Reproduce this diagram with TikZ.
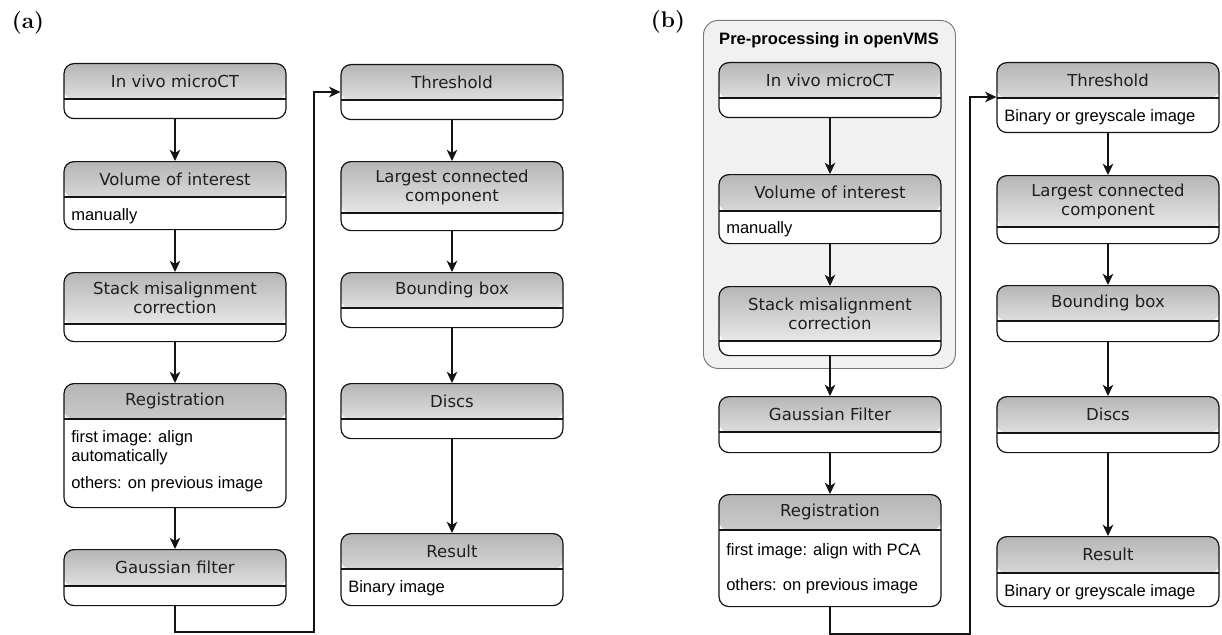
\documentclass[tikz,border=0pt]{standalone}
\usepackage{fontspec}
\newfontfamily\arialf{Liberation Sans}
\newfontfamily\verdf{DejaVu Sans}
\usetikzlibrary{arrows.meta,calc}
\definecolor{linecol}{RGB}{20,20,20}
\definecolor{hdtop}{RGB}{182,182,182}
\definecolor{hdbot}{RGB}{246,246,246}
\definecolor{grpfill}{RGB}{241,241,241}
\definecolor{grpline}{RGB}{120,120,120}
\tikzset{
  stepbox/.style={draw=linecol, line width=0.9pt, fill=white, rounded corners=7.5pt,
    minimum width=166.5pt, inner sep=0pt, anchor=north},
  stepline/.style={draw=linecol, line width=0.9pt},
  titletext/.style={font=\verdf\fontsize{12.4}{14.25}\selectfont, align=center, inner sep=0pt, text=black!88},
  bodytext/.style={font=\arialf\fontsize{12.4}{14.25}\selectfont, align=left, anchor=west, inner sep=0pt},
  grouptext/.style={font=\arialf\bfseries\fontsize{12.4}{14.25}\selectfont, inner sep=0pt},
  panellabel/.style={font=\rmfamily\bfseries\fontsize{17}{20}\selectfont, inner sep=0pt},
  arr/.style={draw=linecol, line width=0.8pt, -{Stealth[length=8.5pt,width=8pt,inset=2.5pt]}},
}
\newcommand\flowstep[6]{%
  \node[stepbox, minimum height={(#5-#3)*0.75pt},
    path picture={\shade[top color=hdtop,bottom color=hdbot]
      (path picture bounding box.north west) rectangle
      ([yshift={-(#4-#3)*0.75pt}]path picture bounding box.north east);}]
    (#1) at (#2,#3) {};
  \draw[stepline] (#2-111,#4) -- (#2+111,#4);
  \node[titletext] (#1-t) at (#2,{(#3+#4)/2}) {#6};
}
\begin{document}
\begin{tikzpicture}[x=0.75pt,y=-0.75pt]
\useasboundingbox (0,0) rectangle (1222,635);

% panel labels
\node[panellabel] (la) at (28,23) {(a)};
\node[panellabel] (lb) at (668,22) {(b)};

% ---------- panel (a) ----------
\flowstep{A1}{175}{63}{99}{118}{In vivo microCT}
\flowstep{A2}{175}{161}{197}{229}{Volume of interest}
\node[bodytext] (A2-b) at (71,216) {manually};
\flowstep{A3}{175}{272}{324}{341}{Stack misalignment\\correction}
\flowstep{A4}{175}{383}{419}{507}{Registration}
\node[bodytext, execute at begin node={\baselineskip=14.25pt}] (A4-b1) at (71,447.5) {first image: align\\automatically};
\node[bodytext] (A4-b2) at (71,484) {others: on previous image};
\flowstep{A5}{175}{549}{586}{605}{Gaussian filter}

\flowstep{B1}{452}{64}{100}{119}{Threshold}
\flowstep{B2}{452}{161}{213}{230}{Largest connected\\component}
\flowstep{B3}{452}{272}{308}{327}{Bounding box}
\flowstep{B4}{452}{383}{419}{438}{Discs}
\flowstep{B5}{452}{533}{569}{605}{Result}
\node[bodytext] (B5-b) at (348,588) {Binary image};

\draw[arr] (A1.south) -- (A2.north);
\draw[arr] (A2.south) -- (A3.north);
\draw[arr] (A3.south) -- (A4.north);
\draw[arr] (A4.south) -- (A5.north);
\coordinate (aLow) at (314,632);
\coordinate (aUp) at (314,92);
\draw[arr] (A5.south) |- (aLow) -- (aUp) -- (B1.west |- aUp);
\draw[arr] (B1.south) -- (B2.north);
\draw[arr] (B2.south) -- (B3.north);
\draw[arr] (B3.south) -- (B4.north);
\draw[arr] (B4.south) -- (B5.north);

% ---------- panel (b) ----------
\node[draw=grpline, line width=0.7pt, fill=grpfill, rounded corners=11pt,
  minimum width={252*0.75pt}, minimum height={348*0.75pt}, anchor=north west, inner sep=0pt]
  (grp) at (703,20) {};
\node[grouptext] (grp-t) at (829,40) {Pre-processing in openVMS};

\flowstep{C1}{830}{62}{98}{117}{In vivo microCT}
\flowstep{C2}{830}{174}{211}{243}{Volume of interest}
\node[bodytext] (C2-b) at (726,229) {manually};
\flowstep{C3}{830}{286}{341}{355}{Stack misalignment\\correction}
\flowstep{C4}{830}{396}{432}{452}{Gaussian Filter}
\flowstep{C5}{830}{494}{530}{606}{Registration}
\node[bodytext] (C5-b1) at (726,551) {first image: align with PCA};
\node[bodytext] (C5-b2) at (726,586) {others: on previous image};

\flowstep{D1}{1108}{62}{98}{132}{Threshold}
\node[bodytext] (D1-b) at (1004,117) {Binary or greyscale image};
\flowstep{D2}{1108}{175}{227}{243}{Largest connected\\component}
\flowstep{D3}{1108}{285}{321}{341}{Bounding box}
\flowstep{D4}{1108}{396}{433}{452}{Discs}
\flowstep{D5}{1108}{536}{573}{606}{Result}
\node[bodytext] (D5-b) at (1004,592) {Binary or greyscale image};

\draw[arr] (C1.south) -- (C2.north);
\draw[arr] (C2.south) -- (C3.north);
\draw[arr] (C3.south) -- (C4.north);
\draw[arr] (C4.south) -- (C5.north);
\coordinate (bLow) at (970,634);
\coordinate (bUp) at (970,97);
\draw[arr] (C5.south) |- (bLow) -- (bUp) -- (D1.west |- bUp);
\draw[arr] (D1.south) -- (D2.north);
\draw[arr] (D2.south) -- (D3.north);
\draw[arr] (D3.south) -- (D4.north);
\draw[arr] (D4.south) -- (D5.north);
\end{tikzpicture}
\end{document}
